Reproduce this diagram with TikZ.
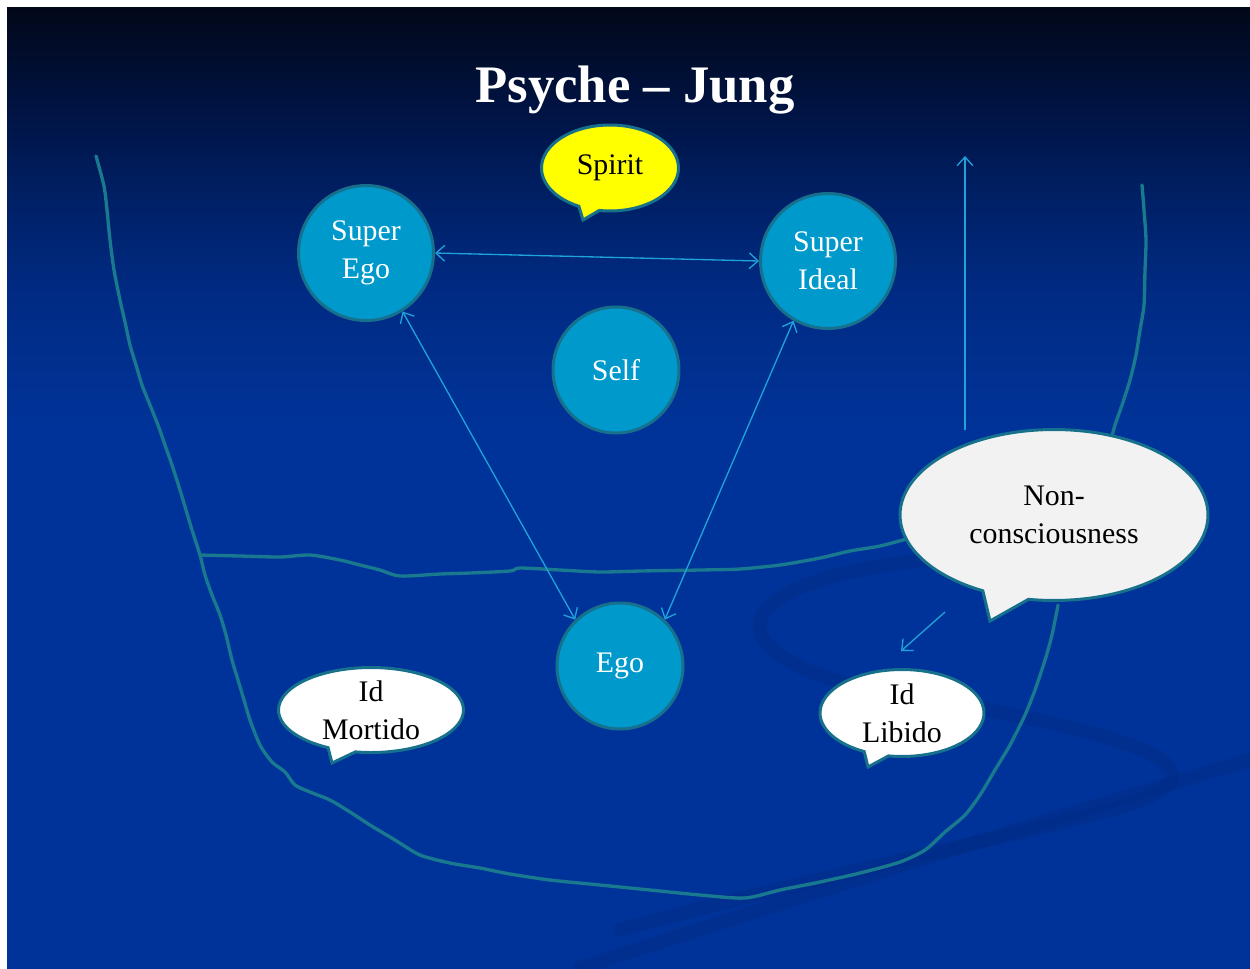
\documentclass[tikz,border=0pt]{standalone}
\usepackage{fontspec}
\setmainfont{Liberation Serif}
\usetikzlibrary{shapes.callouts,arrows.meta}
\definecolor{bgblue}{HTML}{003399}
\definecolor{bgtop}{HTML}{010818}
\definecolor{bgA}{HTML}{001240}
\definecolor{bgB}{HTML}{002066}
\definecolor{bgC}{HTML}{002B84}
\definecolor{swoosh}{HTML}{002A80}
\definecolor{rim}{HTML}{17708C}
\definecolor{hand}{HTML}{18798F}
\definecolor{cyanfill}{HTML}{0099CC}
\definecolor{arrowc}{HTML}{1FA3DA}
\definecolor{spirit}{HTML}{FFFF00}
\definecolor{noncon}{HTML}{F2F2F2}
\pgfdeclareverticalshading{slidebg}{100bp}{color(0bp)=(bgblue); color(53bp)=(bgblue); color(60bp)=(bgC); color(65bp)=(bgB); color(70bp)=(bgA); color(75bp)=(bgtop); color(100bp)=(bgtop)}
\newcommand{\bodyfont}{\fontsize{17}{21.5}\selectfont}
\tikzset{
  bubble/.style={circle, draw=rim, fill=cyanfill, line width=1.7pt, text=white, align=center, inner sep=0pt, font=\bodyfont},
  speech/.style={ellipse callout, draw=rim, line width=1.7pt, align=center, inner sep=0pt, text=black, font=\bodyfont, callout pointer arc=18},
  link/.style={draw=arrowc, line width=0.75pt, arrows={Straight Barb[length=5pt,width=9pt]-Straight Barb[length=5pt,width=9pt]}},
  onelink/.style={draw=arrowc, line width=0.75pt, arrows={-Straight Barb[length=5pt,width=9pt]}},
  handline/.style={draw=hand, line width=1.9pt, line cap=round, line join=round},
  swooshline/.style={draw=swoosh, draw opacity=0.35, line width=0.28cm, line cap=round},
  titlestyle/.style={text=white, font=\fontsize{30}{34}\selectfont\bfseries}
}
\begin{document}
\begin{tikzpicture}[x=0.02cm,y=-0.02cm]
\useasboundingbox (0,0) rectangle (1250,968);
\fill[white] (0,0) rectangle (1250,968);
\shade[shading=slidebg] (7,7) rectangle (1250,968);
% background swooshes
\draw[swooshline] (1040,553) .. controls (700,560) and (690,660) .. (900,695) .. controls (1120,730) and (1260,770) .. (1110,810) .. controls (1000,840) and (800,880) .. (620,930);
\draw[swooshline] (580,968) .. controls (850,880) and (1080,810) .. (1250,760);
% hand-drawn boundaries
\draw[handline] plot[smooth, tension=0.45] coordinates {(96,156) (104,186) (107,210) (110,240) (114,270) (120,300) (125,322) (130,345) (136,365) (142,385) (150,405) (158,425) (165,445) (172,465) (180,490) (186,510) (192,530) (200,555) (205,575) (212,595) (220,615) (226,635) (232,660) (238,680) (244,700) (250,720) (260,745) (272,762) (285,772) (295,785) (310,792) (330,800) (350,812) (370,825) (395,840) (420,855) (450,863) (480,868) (510,874) (550,880) (600,885) (650,890) (700,895) (745,898) (780,890) (820,882) (860,873) (900,862) (925,850) (945,832) (965,815) (980,795) (995,770) (1010,745) (1025,715) (1035,690) (1045,660) (1052,635) (1058,605)};
\draw[handline] plot[smooth, tension=0.45] coordinates {(1142,185) (1144,210) (1146,240) (1145,270) (1144,305) (1140,330) (1136,355) (1130,380) (1122,405) (1115,425) (1111,440)};
\draw[handline] plot[smooth, tension=0.45] coordinates {(200,555) (240,556) (280,557) (310,555) (340,560) (360,565) (380,570) (400,576) (440,574) (470,573) (510,571) (520,568) (560,570) (600,572) (640,571) (700,570) (740,569) (780,565) (820,558) (850,551) (880,546) (910,538)};
% title
\node[titlestyle] (title) at (635,90) {Psyche -- Jung};
% circles
\node[bubble, minimum size=2.70cm] (superego) at (366,253) {Super\\Ego};
\node[bubble, minimum size=2.70cm] (superideal) at (828,261) {Super\\Ideal};
\node[bubble, minimum size=2.52cm] (self) at (616,370) {Self};
\node[bubble, minimum size=2.52cm] (ego) at (620,666) {Ego};
% connectors
\draw[link] (superego.east) -- (superideal.west);
\draw[link] (superego.-58) -- (ego.134);
\draw[link] (superideal.-120) -- (ego.46);
\coordinate (upfoot) at (965,430);
\coordinate (uphead) at (965,156);
\draw[onelink] (upfoot) -- (uphead);
\coordinate (libfoot) at (945,612);
\coordinate (libhead) at (901,651);
\draw[onelink] (libfoot) -- (libhead);
% callouts
\node[speech, fill=spirit, minimum width=2.74cm, minimum height=1.72cm, callout absolute pointer={(583,220)}] (spirit) at (610,168) {Spirit};
\node[speech, fill=noncon, minimum width=6.16cm, minimum height=3.42cm, callout absolute pointer={(990,621)}] (noncon) at (1054,515) {Non-\\consciousness};
\node[speech, fill=white, minimum width=3.70cm, minimum height=1.70cm, callout absolute pointer={(332,763)}] (mortido) at (371,710) {Id\\Mortido};
\node[speech, fill=white, minimum width=3.28cm, minimum height=1.74cm, callout absolute pointer={(868,767)}] (libido) at (902,713) {Id\\Libido};
\end{tikzpicture}
\end{document}
